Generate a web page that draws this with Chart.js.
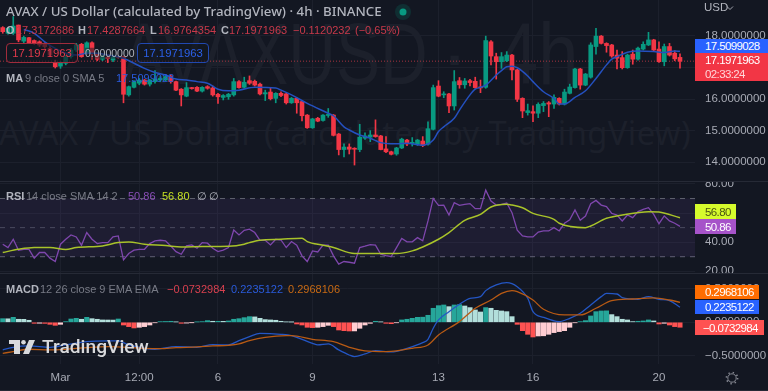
<!DOCTYPE html>
<html><head><meta charset="utf-8">
<script src="https://cdn.jsdelivr.net/npm/chart.js@4"></script>
<style>
html,body{margin:0;padding:0;background:#131722;width:768px;height:391px;overflow:hidden;font-family:"Noto Sans",sans-serif}
#wrap{position:relative;width:768px;height:391px;overflow:hidden}
canvas{position:absolute;left:0;top:0}
.t{position:absolute;white-space:nowrap;transform:translateY(-50%);line-height:1;font-size:11px;font-family:"Liberation Sans",sans-serif}
.wm{position:absolute;white-space:nowrap;color:#1c202b;line-height:1;font-family:"Liberation Sans",sans-serif;transform-origin:left top}
.chip{position:absolute;color:#fff;font-size:11.5px;letter-spacing:-.62px;display:flex;align-items:center;padding-left:10px;box-sizing:border-box;font-family:"Liberation Sans",sans-serif}
.box{position:absolute;box-sizing:border-box;height:20px;width:72px;top:43px;border-radius:4px;font-size:11.3px;font-family:"Liberation Sans",sans-serif;display:flex;align-items:center;justify-content:center;background:rgba(19,23,34,.65)}
.g{color:#787b86}.w{color:#b2b5be}.r{color:#c8394a}
</style></head><body>
<div id="wrap">
<div class="wm" style="left:122px;top:10px;font-size:88px;transform:scaleX(.75)">AVAXUSD</div>
<div class="wm" style="left:440px;top:10px;font-size:88px">·</div>
<div class="wm" style="left:498px;top:10px;font-size:88px;transform:scaleX(.82)">4h</div>
<div class="wm" style="left:-1px;top:117px;font-size:32.7px;letter-spacing:.4px;font-family:'Noto Sans',sans-serif">AVAX / US Dollar (calculated by TradingView)</div>
<canvas id="c" width="768" height="391"></canvas>

<div style="position:absolute;left:695px;top:176px;width:73px;height:5px;background:#131722"></div>
<div style="position:absolute;left:695px;top:274px;width:73px;height:5px;background:#131722"></div>

<div class="t w" style="left:6px;top:12px;font-size:13.3px;font-weight:500;font-family:'Noto Sans',sans-serif">AVAX / US Dollar (calculated by TradingView) · 4h · BINANCE</div>
<svg style="position:absolute;left:395px;top:4px" width="16" height="16"><circle cx="8" cy="8" r="8" fill="#089981" fill-opacity=".18"/><circle cx="8" cy="8" r="3.5" fill="#089981"/></svg>
<div class="t w" style="left:6px;top:30px;font-weight:700">O</div><div class="t r" style="left:16px;top:30px">17.3172686</div>
<div class="t w" style="left:78px;top:30px;font-weight:700">H</div><div class="t r" style="left:87px;top:30px">17.4287664</div>
<div class="t w" style="left:150px;top:30px;font-weight:700">L</div><div class="t r" style="left:158px;top:30px">16.9764354</div>
<div class="t w" style="left:221px;top:30px;font-weight:700">C</div><div class="t r" style="left:229px;top:30px">17.1971963</div>
<div class="t r" style="left:293px;top:30px">−0.1120232</div><div class="t r" style="left:355px;top:30px">(−0.65%)</div>
<div class="box r" style="left:6px;border:1px solid #a02c3c;color:#e23a4c">17.1971963</div>
<div class="t w" style="left:85px;top:53px;background:rgba(19,23,34,.5);font-size:10.5px">0.0000000</div>
<div class="box" style="left:137px;border:1px solid #2148b0;color:#2b60e8">17.1971963</div>
<div class="t w" style="left:6px;top:78px;font-weight:700">MA</div><div class="t g" style="left:25px;top:78px">9 close 0 SMA 5</div><div class="t" style="left:116px;top:78px;color:#2a5bdc">17.5099028</div>
<div class="t w" style="left:6px;top:196px;font-weight:700">RSI</div><div class="t g" style="left:26px;top:196px">14 close SMA 14 2</div><div class="t" style="left:128px;top:196px;color:#8a4fb8">50.86</div><div class="t" style="left:162px;top:196px;color:#c5e024">56.80</div><div class="t w" style="left:197px;top:196px">∅</div><div class="t w" style="left:209px;top:196px">∅</div>
<div class="t w" style="left:6px;top:289px;font-weight:700">MACD</div><div class="t g" style="left:40px;top:289px">12 26 close 9 EMA EMA</div><div class="t" style="left:167px;top:289px;color:#d8404f">−0.0732984</div><div class="t" style="left:231px;top:289px;color:#2a5bdc">0.2235122</div><div class="t" style="left:288px;top:289px;color:#c86a14">0.2968106</div>

<svg style="position:absolute;left:9px;top:340px" width="26" height="14" viewBox="0 0 26 14"><path fill="#d8d9dc" d="M0 0H11V14H5V4H0ZM20 0H26L20 14H14Z"/><circle cx="14.5" cy="2.3" r="2.3" fill="#d8d9dc"/></svg>
<div class="t" style="left:42px;top:347px;font-size:19.2px;font-weight:500;color:#d8d9dc;font-family:Roboto,sans-serif">TradingView</div>

<div class="t w" style="left:704px;top:8px;font-size:11.5px">USD</div>
<svg style="position:absolute;left:726px;top:5px" width="8" height="6"><path d="M1 1.5L4 4.5L7 1.5" stroke="#a0a3ad" fill="none"/></svg>
<div class="chip" style="left:695px;top:39px;width:73px;height:14px;background:#2962ff">17.5099028</div>
<div class="chip" style="left:695px;top:53px;width:73px;height:28px;background:#f23645;flex-direction:column;align-items:flex-start;justify-content:center;line-height:14px"><span>17.1971963</span><span style="color:#ffd5d8">02:33:24</span></div>
<div class="chip" style="left:695px;top:204px;width:41px;height:15px;background:#d6fb2c;color:#4b5312">56.80</div>
<div class="chip" style="left:695px;top:219px;width:41px;height:15px;background:#a653c9">50.86</div>
<div class="chip" style="left:695px;top:285px;width:64px;height:14px;background:#ff6d00;">0.2968106</div>
<div class="chip" style="left:695px;top:300px;width:64px;height:14px;background:#2962ff">0.2235122</div>
<div class="chip" style="left:695px;top:320px;width:69px;height:15px;background:#ff5252;padding-left:8px">−0.0732984</div>
<svg style="position:absolute;left:725px;top:371px" width="14" height="14" viewBox="0 0 14 14"><circle cx="7" cy="7" r="4.2" fill="none" stroke="#868993" stroke-width="1"/><circle cx="7" cy="7" r="5.6" fill="none" stroke="#868993" stroke-width="1.6" stroke-dasharray="1.4 3"/></svg>
<div style="position:absolute;left:0;top:390px;width:768px;height:1px;background:#252935"></div>
</div>
<script>
const opens=[18.26,18.08,18.08,18.34,17.83,17.94,17.85,17.81,17.76,17.60,17.13,17.04,17.13,17.34,17.55,17.73,17.45,17.78,17.42,17.26,17.32,17.23,17.34,17.34,16.13,16.37,16.50,16.60,16.47,16.55,16.60,16.60,16.71,16.55,16.31,16.09,16.34,16.37,16.25,16.39,16.35,16.15,16.05,16.07,16.13,16.55,16.37,16.58,16.56,16.47,16.16,16.22,16.02,16.18,16.16,15.88,16.02,15.92,15.49,15.09,15.39,15.32,15.48,15.49,14.89,14.40,14.48,14.44,14.40,14.76,14.79,14.86,14.83,14.42,14.33,14.26,14.45,14.70,14.59,14.57,14.67,14.57,15.04,16.41,16.13,16.16,15.78,16.58,16.45,16.58,16.56,16.37,16.37,17.81,17.34,17.18,17.21,17.39,16.92,16.02,15.57,15.60,15.55,15.79,15.88,15.84,16.02,15.84,16.18,16.36,16.95,16.44,16.69,17.66,17.99,17.76,17.71,17.39,17.31,16.99,17.42,17.26,17.58,17.71,17.87,17.58,17.18,17.66,17.45,17.3172686];
const highs=[18.29,18.26,18.61,18.34,17.99,17.95,17.87,17.84,17.78,17.66,17.23,17.18,17.39,17.60,17.76,17.76,17.81,17.81,17.45,17.39,17.39,17.39,17.36,17.36,16.41,16.58,16.65,16.62,16.62,16.90,16.71,16.76,16.76,16.57,16.33,16.52,16.37,16.39,16.39,16.42,16.41,16.18,16.14,16.18,16.65,16.58,16.69,16.73,16.60,16.50,16.28,16.34,16.20,16.23,16.18,16.05,16.04,15.94,15.51,15.39,15.42,15.51,15.70,15.51,14.91,14.58,14.58,14.46,15.20,14.93,15.00,15.34,14.85,14.81,14.35,14.47,14.76,14.72,14.78,14.72,14.81,15.28,16.44,16.58,16.23,16.18,16.90,16.68,16.65,16.62,16.69,16.60,17.99,17.85,17.45,17.47,17.50,17.41,16.94,16.04,15.84,15.78,15.88,15.92,15.92,16.13,16.04,16.31,16.47,16.97,16.97,16.81,17.78,18.24,18.01,17.78,17.73,17.55,17.50,17.42,17.55,17.64,17.81,18.11,17.89,17.81,17.74,17.76,17.53,17.4287664];
const lows=[18.08,18.05,18.04,17.81,17.78,17.76,17.73,17.66,17.60,17.34,16.98,16.97,17.08,17.29,17.50,17.32,17.41,17.26,17.21,17.21,17.15,17.18,17.29,15.88,16.09,16.35,16.45,16.44,16.41,16.50,16.55,16.57,16.50,16.26,15.78,16.07,16.31,16.23,16.22,16.31,16.09,15.86,15.97,15.99,16.09,16.34,16.34,16.46,16.41,16.13,15.95,15.97,15.88,16.07,15.84,15.86,15.55,15.31,15.07,15.07,15.28,15.30,15.42,14.83,14.23,14.17,14.26,13.91,14.33,14.72,14.65,14.79,14.39,14.30,14.23,14.22,14.43,14.52,14.51,14.53,14.49,14.54,15.02,16.07,16.04,15.57,15.65,16.34,16.34,16.41,16.34,16.20,16.34,17.08,16.63,16.97,17.18,16.60,15.92,15.41,15.49,15.28,15.41,15.60,15.44,15.70,15.81,15.81,16.16,16.34,16.31,16.42,16.66,17.42,17.74,17.48,17.32,16.95,16.95,16.97,17.10,17.23,17.55,17.69,17.53,17.16,17.05,17.36,17.21,16.9764354];
const closes=[18.13,18.24,18.31,17.87,17.95,17.78,17.76,17.71,17.66,17.39,17.02,17.13,17.34,17.55,17.71,17.34,17.78,17.45,17.26,17.34,17.28,17.32,17.32,16.15,16.39,16.55,16.60,16.47,16.60,16.63,16.65,16.71,16.55,16.28,16.13,16.36,16.33,16.25,16.37,16.34,16.13,16.07,16.11,16.15,16.55,16.36,16.53,16.50,16.44,16.16,16.20,16.01,16.18,16.11,15.88,16.02,15.88,15.47,15.09,15.37,15.30,15.49,15.51,14.85,14.40,14.48,14.41,14.41,14.79,14.83,14.86,14.81,14.40,14.33,14.25,14.45,14.73,14.58,14.63,14.70,14.53,15.06,16.36,16.09,16.15,15.78,16.55,16.45,16.57,16.52,16.36,16.35,17.85,17.36,17.18,17.34,17.39,16.92,15.99,15.62,15.63,15.55,15.83,15.86,15.84,16.05,15.84,16.22,16.38,16.95,16.44,16.79,17.71,17.99,17.76,17.69,17.36,17.29,16.99,17.39,17.26,17.61,17.73,17.87,17.55,17.18,17.66,17.39,17.27,17.1971963];

const maIndex=[4,6,8,10,12,14,16,18,20,22,23,25,27,29,31,33,35,37,39,41,43,45,48,52,53,55,58,62,63,65,66,68,70,72,75,77,80,82,83,84,86,87,89,90,91,92,94,95,96,97,98,100,101,103,105,106,107,109,111,113,115,116,117,119,121,124,126,128,129];
const maValues=[18.20,18.08,17.81,17.60,17.45,17.39,17.45,17.45,17.39,17.34,17.29,17.13,16.97,16.84,16.76,16.63,16.60,16.55,16.50,16.31,16.26,16.28,16.37,16.35,16.28,16.13,15.86,15.55,15.47,15.12,15.02,14.86,14.76,14.62,14.58,14.60,14.54,14.70,14.97,15.12,15.39,15.65,16.13,16.31,16.37,16.44,16.76,16.90,17.02,17.04,16.99,16.73,16.55,16.23,16.02,15.84,15.84,16.05,16.26,16.65,17.08,17.26,17.34,17.48,17.52,17.50,17.47,17.52,17.5099];

const rsiValues=[38.6,36.3,42.0,34.5,35.1,35.1,29.0,32.9,32.9,29.0,26.7,38.6,42.0,45.0,43.6,37.9,46.6,42.0,39.0,39.7,39.7,43.6,44.3,27.8,32.2,34.5,35.1,35.1,39.0,40.9,41.3,40.9,37.4,33.5,31.7,37.4,38.1,35.8,39.7,39.3,35.8,33.5,34.5,36.3,48.4,45.0,48.2,48.9,46.6,41.3,41.3,38.1,42.0,41.5,36.3,40.4,37.9,30.6,26.7,34.0,33.3,37.9,37.9,30.6,24.9,26.7,26.2,25.5,36.3,37.2,38.3,37.9,31.7,30.8,30.1,36.3,42.5,40.2,40.2,43.1,40.9,54.6,70.1,65.3,65.5,58.7,67.1,65.3,66.0,66.5,63.0,63.0,75.8,68.3,65.5,66.0,66.9,60.3,48.2,44.3,43.6,43.6,47.0,47.7,47.7,50.0,47.7,53.0,55.3,62.1,55.0,58.0,66.5,68.7,65.5,64.4,59.8,58.7,54.6,58.7,56.9,61.0,62.6,63.7,59.1,52.7,58.0,54.6,53.0,50.86];
const rsiMaIndex=[0,3,6,9,12,14,19,22,24,27,31,34,38,43,46,47,49,53,57,58,61,63,67,71,75,78,80,83,85,88,91,93,96,97,99,101,105,106,111,112,115,118,123,125,129];
const rsiMaValues=[32.9,35.1,36.3,36.3,34.9,36.3,37.4,39.7,40.2,38.6,37.7,36.7,37.0,37.2,38.6,39.7,41.3,42.0,42.7,40.4,37.9,36.3,32.2,32.2,32.2,34.0,36.7,42.0,46.6,55.0,59.1,64.2,66.0,65.5,63.7,59.8,55.7,53.0,50.0,51.1,56.4,58.7,61.0,60.7,56.8];
const rsiLevels=[70,50,30];

const histValues=[.054,.052,.074,.045,.044,.030,-.015,-.014,-.016,-.03,-.045,-.03,.01,.049,.059,.045,.074,.054,.045,.035,.034,.033,.049,-.04,-.064,-.084,-.074,-.064,-.04,-.005,.01,.012,.015,.005,-.015,-.012,-.003,.005,.01,.025,.015,.015,.014,.02,.045,.054,.069,.084,.080,.059,.04,.035,.03,.015,.005,.003,-.025,-.04,-.074,-.079,-.074,-.064,-.045,-.064,-.114,-.124,-.129,-.128,-.089,-.04,-.015,.015,.005,-.015,-.02,-.005,.035,.045,.059,.074,.076,.104,.208,.247,.257,.232,.257,.262,.242,.218,.183,.153,.218,.208,.178,.168,.158,.084,-.03,-.124,-.178,-.218,-.203,-.2,-.178,-.153,-.138,-.124,-.074,-.005,.01,.025,.094,.158,.168,.170,.114,.084,.045,.035,.01,.015,.02,.035,.02,-.025,-.015,-.04,-.064,-.0732984];
const macdIndex=[0,2,5,9,12,16,20,22,24,27,29,33,37,40,43,45,47,49,53,55,59,60,62,64,66,67,69,71,74,77,80,81,82,83,85,87,89,91,92,94,96,98,100,101,103,106,108,110,112,114,115,117,118,121,123,125,127,129];
const macdValues=[-.41,-.371,-.351,-.371,-.336,-.287,-.277,-.277,-.336,-.386,-.40,-.361,-.371,-.331,-.336,-.272,-.213,-.163,-.178,-.198,-.312,-.336,-.321,-.41,-.485,-.509,-.47,-.42,-.44,-.386,-.302,-.252,-.089,.035,.158,.267,.356,.381,.47,.554,.589,.529,.356,.158,.074,.01,.059,.134,.257,.381,.43,.42,.366,.341,.381,.341,.321,.2235122];
const signalIndex=[0,2,5,9,12,16,20,24,27,30,33,37,40,43,45,47,50,54,55,59,63,66,69,73,75,78,81,83,87,90,93,95,97,98,101,103,107,110,113,116,120,124,127,129];
const signalValues=[-.46,-.435,-.40,-.41,-.40,-.376,-.361,-.371,-.386,-.391,-.376,-.366,-.351,-.341,-.321,-.272,-.223,-.198,-.198,-.252,-.287,-.371,-.425,-.435,-.425,-.386,-.336,-.188,.01,.208,.331,.43,.47,.455,.331,.193,.109,.109,.208,.321,.346,.361,.331,.2968106];

const lastClose=17.1971963;
const priceTicks=[14,15,16,17,18];
const rsiTicks=[20,40,60,80];
const macdTicks=[-0.5,0,0.5];
const timeTickIndex=[11,26,41,59,83,101,125];
const timeTickLabels=['Mar','12:00','6','9','13','16','20'];

const UP='#089981',DOWN='#f23645',GRID='#1c202c',LABEL='#a8abb5';
const AXFONT={family:'"Liberation Sans",sans-serif',size:11.5};
const idx=opens.map((_,i)=>i);
const xMin=-0.524,xMax=131.86;
const zip=(a,b)=>a.map((x,i)=>({x,y:b[i]}));
const edge=v=>[{x:xMin,y:v},{x:xMax,y:v}];
const isUp=i=>closes[i]>=opens[i];
const candleColors=idx.map(i=>isUp(i)?UP:DOWN);
const histColors=histValues.map((v,i)=>{const p=i?histValues[i-1]:v;return v>=0?(v>=p?'#26a69a':'#b2dfdb'):(v<p?'#ff5252':'#ffcdd2');});
const line=(o)=>Object.assign({type:'line',pointRadius:0,borderWidth:1.3,fill:false},o);
const noPad=s=>{s.paddingTop=0;s.paddingBottom=0;s.paddingLeft=0;s.paddingRight=0;};

const yAxis=(stackWeight,min,max,ticks,fmt)=>({
  type:'linear',position:'right',stack:'panes',stackWeight,min,max,
  afterFit:s=>{s.width=73;noPad(s);},
  afterBuildTicks:s=>{s.ticks=ticks.map(value=>({value}));},
  grid:{color:GRID,drawTicks:false},border:{display:false},
  ticks:{color:LABEL,font:AXFONT,padding:10,autoSkip:false,callback:fmt}
});

const dividers={id:'dividers',
  beforeInit(c){c.ctx.letterSpacing='-0.62px';},
  beforeDatasetsDraw(c){
  const g=c.ctx;g.save();g.strokeStyle='#262a36';g.lineWidth=1;
  ['rsi','macd'].forEach(id=>{const y=Math.round(c.scales[id].top)+.5;g.beginPath();g.moveTo(0,y);g.lineTo(768,y);g.stroke();});
  g.restore();}};

new Chart(document.getElementById('c'),{
  type:'bar',
  plugins:[dividers],
  data:{datasets:[
    {type:'bar',yAxisID:'price',order:5,grouped:false,barThickness:1,backgroundColor:candleColors,
     data:idx.map(i=>({x:i,y:[lows[i],highs[i]]}))},
    {type:'bar',yAxisID:'price',order:4,grouped:false,barThickness:4,minBarLength:1,backgroundColor:candleColors,
     data:idx.map(i=>({x:i,y:[opens[i],closes[i]]}))},
    line({yAxisID:'price',order:6,data:edge(lastClose),borderColor:'#a8323f',borderWidth:1,borderDash:[1,2]}),
    line({yAxisID:'price',order:2,data:zip(maIndex,maValues),borderColor:'#2450bf',borderWidth:1.5,cubicInterpolationMode:'monotone'}),
    line({yAxisID:'rsi',order:8,data:edge(rsiLevels[0]),borderColor:'rgba(120,123,134,.75)',borderWidth:1,borderDash:[5,5],fill:{target:'+1',above:'rgba(126,87,194,.1)',below:'rgba(126,87,194,.1)'}}),
    line({yAxisID:'rsi',order:8,data:edge(rsiLevels[2]),borderColor:'rgba(120,123,134,.75)',borderWidth:1,borderDash:[5,5]}),
    line({yAxisID:'rsi',order:8,data:edge(rsiLevels[1]),borderColor:'rgba(120,123,134,.5)',borderWidth:1,borderDash:[5,5]}),
    line({yAxisID:'rsi',order:3,data:zip(idx,rsiValues),borderColor:'#7f47ad'}),
    line({yAxisID:'rsi',order:2,data:zip(rsiMaIndex,rsiMaValues),borderColor:'#a9c32a',borderWidth:1.5,cubicInterpolationMode:'monotone'}),
    {type:'bar',yAxisID:'macd',order:4,grouped:false,barThickness:4.4,backgroundColor:histColors,
     data:idx.map(i=>({x:i,y:histValues[i]}))},
    line({yAxisID:'macd',order:2,data:zip(macdIndex,macdValues),borderColor:'#2456c4',cubicInterpolationMode:'monotone'}),
    line({yAxisID:'macd',order:1,data:zip(signalIndex,signalValues),borderColor:'#b85a14',cubicInterpolationMode:'monotone'})
  ]},
  options:{
    responsive:false,animation:false,devicePixelRatio:1,
    layout:{padding:0},
    plugins:{legend:{display:false},tooltip:{enabled:false}},
    scales:{
      x:{type:'linear',position:'bottom',min:xMin,max:xMax,offset:false,
        afterFit:s=>{s.height=27;noPad(s);},
        afterBuildTicks:s=>{s.ticks=timeTickIndex.map(value=>({value}));},
        grid:{color:GRID,drawTicks:false,offset:false},border:{display:false},
        ticks:{color:LABEL,font:AXFONT,padding:7,autoSkip:false,maxRotation:0,
          callback:(v,i)=>timeTickLabels[i]}},
      price:yAxis(181,13.405,19.133,priceTicks,v=>v.toFixed(7)),
      rsi:yAxis(92,18.8,82.06,rsiTicks,v=>v.toFixed(2)),
      macd:yAxis(91,-0.6187,0.7315,macdTicks,v=>(v<0?'−':'')+Math.abs(v).toFixed(7))
    }
  }
});
</script>
</body></html>
